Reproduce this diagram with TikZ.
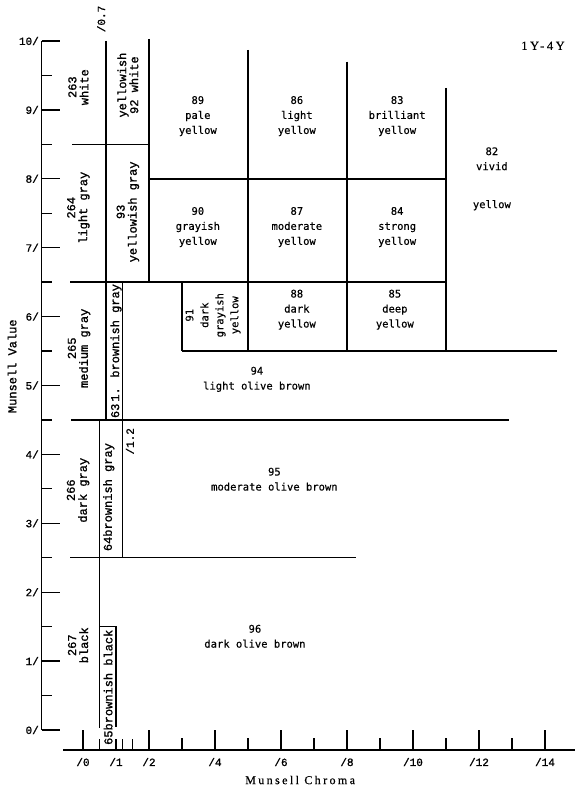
\documentclass[tikz,border=0pt]{standalone}
\usepackage{fontspec}
\usetikzlibrary{positioning}
\newfontfamily\typew{Liberation Mono}[FakeBold=1.2]
\newfontfamily\gothic{DejaVu Sans Mono}[FakeBold=0.4]
\newfontfamily\serifsp{Liberation Serif}[LetterSpace=20,FakeBold=0.6]

\begin{document}
\begin{tikzpicture}[x=33pt,y=68.9pt,line width=1.3pt,
  bd/.style={line width=1.5pt},tk/.style={line width=1.3pt},
  gry/.style={font=\typew\fontsize{12}{12}\selectfont,align=center,inner sep=0pt,rotate=90},
  ylw/.style={font=\gothic\fontsize{10.5}{15}\selectfont,align=center,inner sep=0pt},
  num/.style={font=\typew\fontsize{11}{12}\selectfont,inner sep=0pt}]
\useasboundingbox (-83pt,-63pt) rectangle (499pt,730pt);
% value axis
\draw[tk] (-1.25,0) -- (-1.25,10);
\foreach \v in {0,...,10} {\draw[tk] (-1.25,\v) -- ++(0.55,0); \node[num,anchor=east] (v\v) at (-1.32,\v) {\v/};}
\foreach \v in {0.5,1.5,...,9.5} \draw[tk] (-1.25,\v) -- ++(0.3,0);
\node[num,font=\typew\fontsize{12}{12}\selectfont,rotate=90] (vname) at (-2.15,5.28) {Munsell Value};
% chroma axis
\draw[tk] (-0.6,-0.29) -- (14.9,-0.29);
\foreach \c in {0,2,4,...,14} \draw[tk] (\c,-0.29) -- ++(0,0.29);
\foreach \c in {3,5,...,13} \draw[tk] (\c,-0.29) -- ++(0,0.17);
\foreach \c in {0.5,1,1.2,1.5} \draw[tk] (\c,-0.29) -- ++(0,0.16);
\foreach \c in {0,1,2,4,6,...,14} \node[num] (c\c) at (\c,-0.465) {/\c};
\node[font=\serifsp\fontsize{12}{12}\selectfont,inner sep=0pt] (cname) at (6.58,-0.726) {Munsell Chroma};
\node[font=\serifsp\fontsize{12.5}{12}\selectfont,inner sep=0pt] (hue) at (13.94,9.93) {1Y-4Y};
\node[num,rotate=90] (c07) at (0.55,10.32) {/0.7};
\node[num,rotate=90] (c12) at (1.42,4.19) {/1.2};
% boundaries
\draw[bd] (-0.33,8.5) -- (2,8.5);
\draw[bd] (-0.39,6.5) -- (11,6.5);
\draw[bd] (-0.36,4.5) -- (12.9,4.5);
\draw[bd] (-0.39,2.5) -- (8.27,2.5);
\draw[bd] (2,8) -- (11,8);
\draw[bd] (3,5.5) -- (14.36,5.5);
\draw[bd] (0.7,10) -- (0.7,4.5);
\draw[bd] (2,10.03) -- (2,6.5);
\draw[bd] (5,9.87) -- (5,5.5);
\draw[bd] (8,9.7) -- (8,5.5);
\draw[bd] (11,9.32) -- (11,5.5);
\draw[bd] (3,6.5) -- (3,5.5);
\draw[bd] (1.2,6.5) -- (1.2,2.5);
\draw[bd] (0.5,4.5) -- (0.5,0.03);
\draw[bd] (0.5,1.5) -- (1,1.5) -- (1,0.04);
% neutral and near-neutral names
\node[gry] (n263) at (-0.14,9.33) {263\\white};
\node[gry] (n92) at (1.36,9.36) {yellowish\\92 white};
\node[gry] (n264) at (-0.14,7.58) {264\\light gray};
\node[gry] (n93) at (1.36,7.52) {93\\yellowish gray};
\node[gry] (n265) at (-0.12,5.54) {265\\medium gray};
\node[gry] (n63) at (1.0,5.50) {63\,1. brownish gray};
\node[gry] (n266) at (-0.15,3.48) {266\\dark gray};
\node[gry] (n64) at (0.78,3.38) {64brownish gray};
\node[gry] (n267) at (-0.15,1.23) {267\\black};
\node[gry] (n65) at (0.76,0.62) {65brownish black};
% yellow names
\node[ylw] (n89) at (3.48,8.91) {89\\pale\\yellow};
\node[ylw] (n86) at (6.48,8.91) {86\\light\\yellow};
\node[ylw] (n83) at (9.52,8.91) {83\\brilliant\\yellow};
\node[ylw] (n82) at (12.39,8.0) {82\\vivid\\[23pt]yellow};
\node[ylw] (n90) at (3.48,7.30) {90\\grayish\\yellow};
\node[ylw] (n87) at (6.48,7.30) {87\\moderate\\yellow};
\node[ylw] (n84) at (9.52,7.30) {84\\strong\\yellow};
\node[ylw,rotate=90] (n91) at (3.94,6.02) {91\\dark\\grayish\\yellow};
\node[ylw] (n88) at (6.48,6.10) {88\\dark\\yellow};
\node[ylw] (n85) at (9.45,6.10) {85\\deep\\yellow};
\node[ylw] (n94) at (5.27,5.09) {94\\light olive brown};
\node[ylw] (n95) at (5.8,3.64) {95\\moderate olive brown};
\node[ylw] (n96) at (5.21,1.36) {96\\dark olive brown};
\end{tikzpicture}
\end{document}
